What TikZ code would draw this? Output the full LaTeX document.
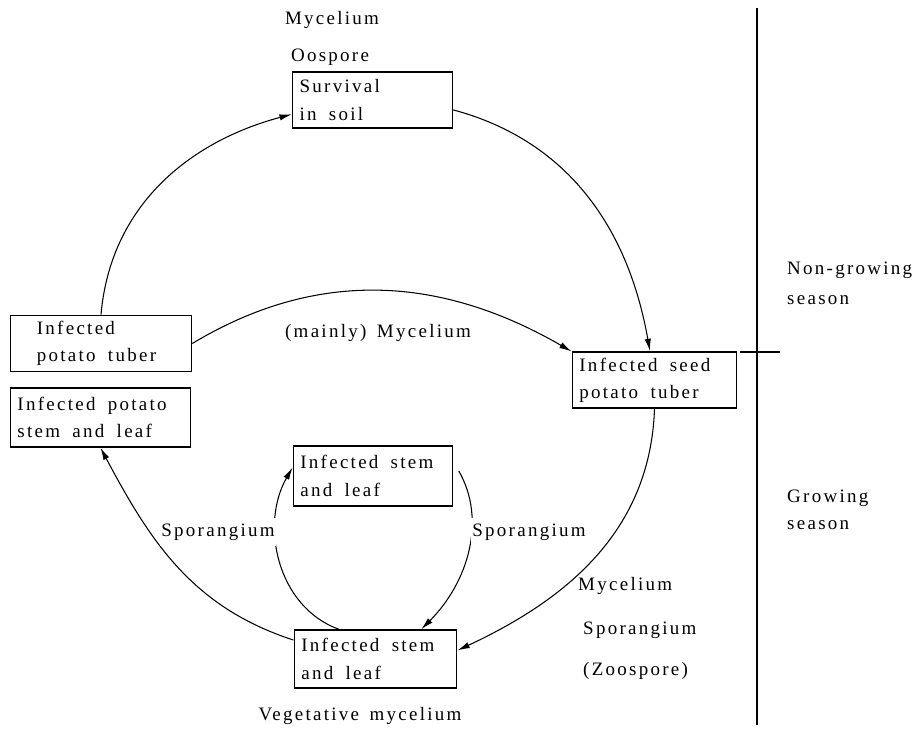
\documentclass[tikz,border=0pt]{standalone}
\usepackage{fontspec}
\setmainfont{Liberation Serif}[LetterSpace=12, WordSpace=1.5]
\usetikzlibrary{arrows.meta}

\begin{document}
\begin{tikzpicture}[>={Latex[length=7pt, width=3.6pt]}, x=0.02cm, y=0.02cm,
        font=\fontsize{10.8}{15.5}\selectfont,
        stagebox/.style={draw, line width=0.9pt, align=left, inner xsep=4pt, inner ysep=0pt, minimum height=32pt,
            execute at begin node={\spaceskip=7pt\relax}},
        flow/.style={->, line width=0.6pt}]
        \useasboundingbox (0,0) rectangle (917,-732);
        % Stage boxes
        \node[stagebox, text width=83pt] (soil) at (372.5,-100) {Survival\\in soil};
        \node[stagebox, text width=95pt] (tuber) at (101,-343.5) {\hspace*{11pt}Infected\\\hspace*{11pt}potato tuber};
        \node[stagebox, text width=94.5pt, minimum height=33.5pt] (stemleaf) at (100.5,-417.5) {Infected potato\\stem and leaf};
        \node[stagebox, text width=85.5pt] (seed) at (654.5,-380) {Infected seed\\potato tuber};
        \node[stagebox, text width=82.7pt, minimum height=34pt] (innertop) at (373,-476) {Infected stem\\and leaf};
        \node[stagebox, text width=84.4pt, minimum height=33pt] (bottom) at (375.5,-659) {Infected stem\\and leaf};
        % Labels
        \node (myc) at (332,-20) {Mycelium};
        \node (oos) at (330,-57) {Oospore};
        \node (mainly) at (378,-333) {(mainly) Mycelium};
        \node[anchor=west] (myc2) at (572,-586) {Mycelium};
        \node[anchor=west] (spor2) at (577,-630) {Sporangium};
        \node[anchor=west] (zoo) at (577,-671) {(Zoospore)};
        \node (veg) at (360,-716) {Vegetative mycelium};
        % Cycle
        \draw[flow] (tuber.north) to[out=85, in=195] (soil.190);
        \draw[flow] (soil.353) to[out=-15, in=100] (seed.99);
        \draw[flow] (tuber.east) to[out=31, in=150] (seed.161);
        \draw[flow] (seed.south) to[out=-92, in=25] (bottom.6);
        \draw[flow] (bottom.167) to[out=162, in=-62] (stemleaf.south);
        \draw[flow] (bottom.141) to[out=160, in=240] (innertop.174);
        \draw[flow, shorten <=6pt] (innertop.10) to[out=-60, in=45] (bottom.33);
        % labels breaking the inner arcs
        \node[fill=white, inner xsep=1pt] (sporl) at (218,-532) {Sporangium};
        \node[fill=white, inner xsep=1pt] (sporr) at (529,-532) {Sporangium};
        % Seasons
        \coordinate (stop) at (757,-8);
        \coordinate (sbot) at (757,-725);
        \coordinate (tl) at (740,-352);
        \coordinate (tr) at (780,-352);
        \draw[line width=0.9pt] (stop) -- (sbot);
        \draw[line width=0.8pt] (tl) -- (tr);
        \node[anchor=west] (nongrow) at (781,-270) {Non-growing};
        \node[anchor=west] (season1) at (781,-300) {season};
        \node[anchor=west] (grow) at (781,-498) {Growing};
        \node[anchor=west] (season2) at (781,-525) {season};
\end{tikzpicture}
\end{document}
